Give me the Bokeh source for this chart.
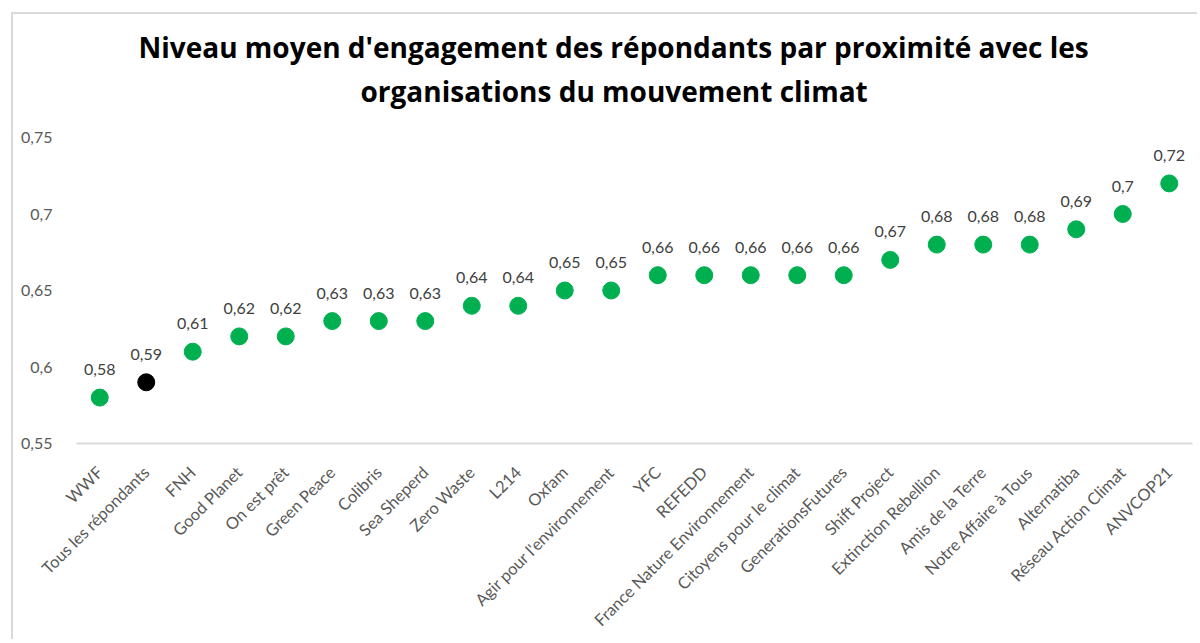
from bokeh.plotting import figure
from bokeh.models import ColumnDataSource, FixedTicker, FactorRange, Range1d, Title
from bokeh.core.properties import value
from bokeh.embed import file_html
from bokeh.resources import INLINE

categories = ["WWF", "Tous les répondants", "FNH", "Good Planet", "On est prêt",
              "Green Peace", "Colibris", "Sea Sheperd", "Zero Waste", "L214",
              "Oxfam", "Agir pour l'environnement", "YFC", "REFEDD",
              "France Nature Environnement", "Citoyens pour le climat",
              "GenerationsFutures", "Shift Project", "Extinction Rebellion",
              "Amis de la Terre", "Notre Affaire à Tous", "Alternatiba",
              "Réseau Action Climat", "ANVCOP21"]
values = [0.58, 0.59, 0.61, 0.62, 0.62, 0.63, 0.63, 0.63, 0.64, 0.64, 0.65, 0.65,
          0.66, 0.66, 0.66, 0.66, 0.66, 0.67, 0.68, 0.68, 0.68, 0.69, 0.70, 0.72]
highlight = "Tous les répondants"
y_ticks = [0.55, 0.60, 0.65, 0.70, 0.75]
y_tick_labels = ["0,55", "0,6", "0,65", "0,7", "0,75"]
title_lines = ["Niveau moyen d'engagement des répondants par proximité avec les",
               "organisations du mouvement climat"]

GREEN = "#00B050"
FONT = "Lato"
TITLE_FONT = "Open Sans"


def fmt(v):
    s = ("%.2f" % v).rstrip("0").rstrip(".")
    return s.replace(".", ",")


src = ColumnDataSource(dict(
    x=categories,
    y=values,
    label=[fmt(v) for v in values],
    color=["#000000" if c == highlight else GREEN for c in categories],
))

p = figure(
    x_range=FactorRange(*categories),
    y_range=Range1d(0.55, 0.75),
    width=1186, height=627,
    output_backend="svg", toolbar_location=None,
    min_border_left=63, min_border_right=7, min_border_top=123, min_border_bottom=198,
    title=None,
    styles={"margin-left": "11px", "margin-top": "12px",
            "border-left": "2px solid #d9d9d9", "border-top": "2px solid #d9d9d9"},
)
p.outline_line_color = None
p.background_fill_color = "white"
p.border_fill_color = "white"

# two title lines (inner panel first), centred over the whole chart area
line2 = Title(text=title_lines[1], align="left", offset=284, standoff=56,
              text_font=TITLE_FONT, text_font_size="28px",
              text_font_style="bold", text_color="#000000")
line1 = Title(text=title_lines[0], align="left", offset=62, standoff=-48,
              text_font=TITLE_FONT, text_font_size="28px",
              text_font_style="bold", text_color="#000000")
p.add_layout(line2, "above")
p.add_layout(line1, "above")

p.xgrid.grid_line_color = None
p.ygrid.grid_line_color = None

p.yaxis.ticker = FixedTicker(ticks=y_ticks)
p.yaxis.major_label_overrides = {t: l for t, l in zip(y_ticks, y_tick_labels)}
p.yaxis.axis_line_color = None
p.yaxis.major_tick_line_color = None
p.yaxis.minor_tick_line_color = None
p.yaxis.major_label_text_font = FONT
p.yaxis.major_label_text_font_size = "16px"
p.yaxis.major_label_text_color = "#595959"
p.yaxis.major_label_standoff = 18

p.xaxis.axis_line_color = "#d9d9d9"
p.xaxis.axis_line_width = 2
p.xaxis.major_tick_line_color = None
p.xaxis.minor_tick_line_color = None
p.xaxis.major_label_orientation = 0.785398
p.xaxis.major_label_text_font = FONT
p.xaxis.major_label_text_font_size = "16.5px"
p.xaxis.major_label_text_color = "#595959"
p.xaxis.major_label_standoff = 20

p.scatter(x="x", y="y", source=src, size=17, fill_color="color", line_color="color")
p.text(x="x", y="y", text="label", source=src, y_offset=-28,
       text_align="center", text_baseline="middle",
       text_font=value(FONT), text_font_size="16px", text_color="#404040")

open("out.html", "w").write(file_html(p, INLINE))
